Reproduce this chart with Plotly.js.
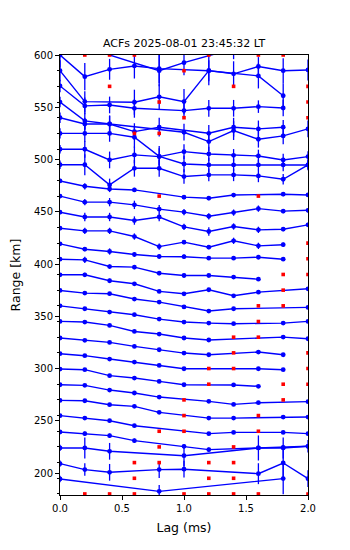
<!DOCTYPE html>
<html>
<head>
<meta charset="utf-8">
<script src="https://cdn.plot.ly/plotly-3.0.1.min.js"></script>
<style>html,body{margin:0;padding:0;background:#fff;}#chart{width:350px;height:550px;}</style>
</head>
<body>
<div id="chart"></div>
<script>
// Lags (ms)
const lags = [0, 0.2, 0.4, 0.6, 0.8, 1.0, 1.2, 1.4, 1.6, 1.8, 2.0];
// Range gates (km) — baseline of each ACF
const gateRanges = [180,195,210,225,240,255,270,285,300,315,330,345,360,375,390,405,420,435,450,465,480,495,510,525,540,555,570,585,600];
// ACF curves drawn in km (null = invalid lag, shown as red square at the gate range)
const acfValues = [
  [194.3, null, null, null, 182.5, null, null, null, null, 194.7, null],
  [209, 203.3, 200.7, null, 203.3, 203.7, null, null, 199.4, 209.6, 194.6],
  [224, 224, 220.8, null, null, 216.6, null, null, 224, 224, 225.6],
  [239.3, 237.7, 235.8, 231, null, 225.6, 222.4, null, 224, 224.6, 225.6],
  [254.9, 252.6, 250.1, 245.3, null, null, 237.7, 238.9, null, 238.9, 237.7],
  [269.5, 269.2, 265.4, 263.8, 258.1, null, 252.6, 252.6, null, 253.6, 253.6],
  [284.5, 283.9, 279.4, 276.6, 272.7, null, 268.6, 265.7, 267.3, null, 268.3],
  [299.5, 298.9, 293.2, 290.9, 287.7, 284.5, null, 284.3, 283, null, null],
  [314.2, 312.3, 309.1, 306.2, 303, 299.8, null, null, 299.8, 298.9, null],
  [329.2, 327, 325, 321.2, 318, 314.8, 313.2, null, 315.8, 313.2, null],
  [345.1, 344.5, 341.3, 335.5, 333, 329.2, 327.3, null, null, 330.1, 328.5],
  [360, 357.2, 354, 351.5, 347.3, 344.5, 343.5, 342.9, null, 343.5, 345.1],
  [374.7, 372.2, 371.6, 366.5, 363.6, 359, 355, 357.2, null, null, 358.5],
  [389.7, 389.7, 384, 381.1, 373.8, 371.5, 375.4, 369.6, 373.1, null, 376.3],
  [404.6, 404, 397.6, 397, 391.2, 389, 389, 387.5, 385.5, null, null],
  [419.3, 414.2, 412, 409.1, 407.2, 407, 405.6, 405.6, 406.5, 404.6, null],
  [434.3, 431.7, 431.7, 426.3, 416.7, 420.9, 416.1, 422.2, 417.4, 418.5, null],
  [449.6, 445, 445, 441.6, 445, 435.5, 431.1, 435.9, 432.7, 433.3, 437.5],
  [465, 459.2, 459.2, 456.6, 452.5, 449.7, 445.7, 449.2, 453, 450.6, 451.4],
  [479.5, 474.4, 471.8, 470.9, null, 464, 463, 466, null, 466.8, 466.1],
  [495, 495, 475.7, 491.6, 491.6, 483.7, 485.3, 485.3, 484.3, 481.1, 494.8],
  [509.8, 509.8, 499.6, 504.4, 502.8, 507.5, 505.3, 504, 503.4, 499.6, 502.8],
  [525, 525, 525, 521.3, 503, 495.7, 494.8, 494.8, 494.8, 494.8, 494.8],
  [540, 534, 534, null, null, 526.1, 517.2, 527.7, 519.4, 522.6, 529.3],
  [555, 537, 534, 526.7, 530.9, null, 525.1, 530.9, 529.3, 530.9, null],
  [570.4, 551.3, 552.2, 549, null, 546.8, 549, 549, 550.6, 549.3, null],
  [585, 555.4, null, 554.8, 560, 555.4, 585, null, 580, 561, null],
  [600, 579.3, 586.3, 589.5, 587, null, 585, 582, 589, 585, 585.7],
  [615, null, null, null, 585, 592.7, null, 606, null, null, 612]
];
// Error bar half-lengths (km)
const acfErrors = [
  [3, null, null, null, 6, null, null, null, null, 15, null],
  [3, 6, 8, null, 8, 8, null, null, 10, 15, 8],
  [3, 10, 8, null, null, 10, null, null, 12, 10, 6],
  [1.5, 2, 2, 2, null, 2, 2, null, 2, 2, 2],
  [1.5, 1.5, 1.5, 1.5, null, null, 1.5, 1.5, null, 1.5, 1.5],
  [1.2, 1.2, 1.2, 1.2, 1.2, null, 1.2, 1.2, null, 1.2, 1.2],
  [1.2, 1.2, 1.2, 1.2, 1.2, null, 1.2, 1.2, 1.2, null, 1.2],
  [1.2, 1.2, 1.2, 1.2, 1.2, 1.2, null, 1.2, 1.2, null, null],
  [1.2, 1.2, 1.2, 1.2, 1.2, 1.2, null, null, 1.2, 1.2, null],
  [1.2, 1.2, 1.2, 1.2, 1.2, 1.2, 1.2, null, 1.2, 1.2, null],
  [1.2, 1.2, 1.2, 1.2, 1.2, 1.2, 1.2, null, null, 1.2, 1.2],
  [1.2, 1.2, 1.2, 1.2, 1.2, 1.2, 1.2, 1.2, null, 1.2, 1.2],
  [1.5, 1.5, 1.5, 1.5, 1.5, 1.5, 1.5, 1.5, null, null, 1.5],
  [1, 2, 2, 1.5, 1.5, 1.5, 1.5, 1.5, 1.5, null, 1],
  [1.5, 3, 2, 2, 2, 2, 1.5, 1.5, 1.5, null, null],
  [1.5, 2, 3, 2, 2, 2, 1.5, 1.5, 1.5, 1.5, null],
  [2, 3, 3, 3, 3, 2, 2, 3, 3, 2, null],
  [2, 4, 4, 4, 4, 3, 4, 3, 3, 2, 2],
  [2, 3, 4, 4, 4, 3, 3, 3, 3, 2, 2],
  [2, 3, 3, 2, null, 2, 2, 2, null, 2, 1],
  [4, 10, 6, 8, 8, 7, 6, 6, 6, 5, 4],
  [4, 8, 8, 8, 8, 7, 7, 6, 6, 6, 5],
  [5, 8, 8, 10, 10, 8, 7, 6, 5, 6, 5],
  [5, 6, 8, null, null, 8, 9, 9, 8, 8, 8],
  [5, 8, 8, 8, 9, null, 8, 9, 8, 7, null],
  [6, 8, 8, 9, null, 8, 8, 8, 6, 8, null],
  [10, 10, null, 12, 12, 12, 14, null, 12, 12, null],
  [12, 13, 10, 12, 14, null, 10, 12, 9, 12, 10],
  [10, null, null, null, 15, 12, null, 10, null, null, 12]
];
const titleText = 'ACFs 2025-08-01 23:45:32 LT';
const yTicks = [200, 250, 300, 350, 400, 450, 500, 550, 600];
const xTicks = [0, 0.5, 1.0, 1.5, 2.0];

const traces = [];
const badX = [], badY = [];
gateRanges.forEach((r, i) => {
  const xs = [], ys = [], es = [];
  acfValues[i].forEach((v, j) => {
    if (v === null) { badX.push(lags[j]); badY.push(r); }
    else { xs.push(lags[j]); ys.push(v); es.push(acfErrors[i][j]); }
  });
  traces.push({
    type: 'scatter', mode: 'lines+markers', x: xs, y: ys,
    line: {color: '#0000ff', width: 1.4},
    marker: {color: '#0000ff', size: 4.8, symbol: 'circle'},
    error_y: {type: 'data', array: es, visible: true, color: '#0000ff', thickness: 1.3, width: 0},
    showlegend: false, hoverinfo: 'skip'
  });
});
traces.push({
  type: 'scatter', mode: 'markers', x: badX, y: badY,
  marker: {color: '#ff0000', size: 3.6, symbol: 'square', line: {width: 0}},
  showlegend: false, hoverinfo: 'skip'
});

const font = {family: 'DejaVu Sans, sans-serif', color: '#000'};
const layout = {
  width: 350, height: 550,
  margin: {l: 60, r: 42, t: 55, b: 55},
  paper_bgcolor: '#fff', plot_bgcolor: '#fff',
  font: Object.assign({size: 10}, font),
  title: {text: titleText, font: Object.assign({size: 11}, font), x: 0.526, xanchor: 'center', y: 1 - 43/550, yanchor: 'middle', yref: 'container'},
  xaxis: {
    range: [0, 2], tickvals: xTicks, ticktext: xTicks.map(v => v.toFixed(1)),
    ticks: 'outside', ticklen: 4, tickwidth: 1, tickcolor: '#000',
    showline: true, linecolor: '#000', linewidth: 1, mirror: true,
    showgrid: false, zeroline: false, tickfont: Object.assign({size: 10}, font),
    title: {text: 'Lag (ms)', font: Object.assign({size: 12.5}, font), standoff: 10}
  },
  yaxis: {
    range: [179, 600], tickvals: yTicks,
    ticks: 'outside', ticklen: 4, tickwidth: 1, tickcolor: '#000',
    minor: {tick0: 0, dtick: 15, ticks: 'outside', ticklen: 2.5, tickwidth: 1, tickcolor: '#000'},
    showline: true, linecolor: '#000', linewidth: 1, mirror: true,
    showgrid: false, zeroline: false, tickfont: Object.assign({size: 10}, font),
    title: {text: 'Range [km]', font: Object.assign({size: 12.5}, font), standoff: 10}
  }
};
Plotly.newPlot('chart', traces, layout, {staticPlot: true, displayModeBar: false});
</script>
</body>
</html>
